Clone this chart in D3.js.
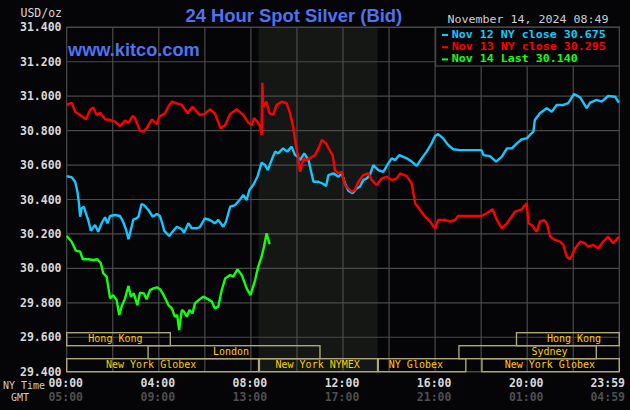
<!DOCTYPE html>
<html>
<head>
<meta charset="utf-8">
<script src="https://cdn.jsdelivr.net/npm/d3@7"></script>
<style>
  body { margin: 0; background: #050507; }
  text { font-family: "DejaVu Sans Mono", monospace; }
  text.title { font-family: "Liberation Sans", Arial, sans-serif; font-weight: bold; }
</style>
</head>
<body>
<svg id="chart" width="630" height="410"></svg>
<script>
// prices as [minutes after NY midnight, USD/oz]
const nov12 = [
  [0, 30.536], [13, 30.529], [22, 30.503], [28, 30.445], [32, 30.378], [35, 30.30], [39, 30.349],
  [45, 30.358], [50, 30.32], [56, 30.281], [63, 30.219], [74, 30.252], [82, 30.213], [91, 30.262],
  [100, 30.297], [106, 30.262], [113, 30.304], [126, 30.31], [139, 30.304], [147, 30.271],
  [155, 30.223], [161, 30.169], [167, 30.223], [174, 30.285], [182, 30.291], [187, 30.30],
  [195, 30.374], [201, 30.368], [213, 30.339], [224, 30.30], [235, 30.316], [243, 30.304],
  [249, 30.262], [254, 30.219], [267, 30.188], [278, 30.219], [287, 30.242], [300, 30.227],
  [306, 30.207], [317, 30.262], [326, 30.233], [339, 30.233], [347, 30.24], [360, 30.291],
  [373, 30.281], [386, 30.262], [395, 30.281], [408, 30.242], [415, 30.271], [426, 30.358],
  [439, 30.368], [452, 30.401], [460, 30.426], [469, 30.397], [476, 30.455], [486, 30.484],
  [497, 30.532], [508, 30.614], [517, 30.60], [524, 30.571], [534, 30.629], [543, 30.678],
  [551, 30.668], [564, 30.697], [575, 30.678], [586, 30.707], [595, 30.658], [602, 30.649],
  [608, 30.629], [619, 30.668], [630, 30.629], [643, 30.503], [656, 30.503], [669, 30.49],
  [676, 30.478], [682, 30.542], [695, 30.552], [708, 30.532], [717, 30.552], [725, 30.494],
  [734, 30.451], [745, 30.436], [756, 30.465], [764, 30.474], [773, 30.513], [782, 30.523],
  [790, 30.542], [799, 30.60], [812, 30.571], [825, 30.561], [838, 30.61], [847, 30.639],
  [856, 30.629], [867, 30.658], [886, 30.639], [899, 30.62], [912, 30.595], [925, 30.639],
  [938, 30.678], [951, 30.726], [960, 30.769], [968, 30.78], [981, 30.755], [994, 30.717],
  [1007, 30.692], [1025, 30.687], [1081, 30.687], [1086, 30.658], [1103, 30.652], [1119, 30.62],
  [1134, 30.649], [1147, 30.697], [1160, 30.697], [1173, 30.726], [1186, 30.75], [1199, 30.755],
  [1207, 30.775], [1216, 30.794], [1220, 30.862], [1233, 30.901], [1251, 30.93], [1264, 30.91],
  [1277, 30.949], [1294, 30.949], [1307, 30.959], [1322, 31.013], [1338, 30.993], [1355, 30.93],
  [1364, 30.962], [1381, 30.978], [1394, 30.968], [1411, 31.001], [1429, 30.997], [1439, 30.962]
];

const nov13 = [
  [0, 30.949], [13, 30.962], [22, 30.91], [35, 30.891], [50, 30.866], [61, 30.92], [69, 30.935],
  [78, 30.891], [87, 30.904], [100, 30.866], [113, 30.862], [126, 30.852], [139, 30.827],
  [152, 30.858], [161, 30.846], [172, 30.885], [178, 30.872], [191, 30.80], [200, 30.794],
  [208, 30.813], [222, 30.866], [235, 30.837], [241, 30.881], [256, 30.901], [265, 30.939],
  [274, 30.968], [291, 30.955], [300, 30.949], [315, 30.901], [328, 30.939], [346, 30.891],
  [360, 30.897], [373, 30.924], [386, 30.901], [401, 30.813], [413, 30.833], [426, 30.897],
  [443, 30.924], [460, 30.891], [473, 30.846], [482, 30.833], [488, 30.872], [497, 30.852],
  [504, 30.823], [508, 30.775], [510, 31.078], [512, 30.939], [521, 30.968], [528, 30.901],
  [538, 30.891], [547, 30.949], [560, 30.968], [573, 30.959], [582, 30.901], [590, 30.823],
  [597, 30.717], [603, 30.649], [608, 30.561], [617, 30.639], [625, 30.629], [634, 30.639],
  [647, 30.658], [656, 30.697], [665, 30.746], [676, 30.726], [686, 30.683], [693, 30.658],
  [699, 30.571], [708, 30.552], [717, 30.561], [725, 30.484], [734, 30.465], [743, 30.445],
  [751, 30.455], [760, 30.503], [773, 30.542], [786, 30.552], [795, 30.513], [808, 30.484],
  [821, 30.523], [834, 30.532], [847, 30.513], [860, 30.523], [869, 30.552], [886, 30.536],
  [899, 30.494], [908, 30.378], [921, 30.339], [934, 30.30], [947, 30.271], [960, 30.233],
  [968, 30.281], [986, 30.281], [999, 30.271], [1012, 30.281], [1020, 30.304], [1081, 30.304],
  [1094, 30.32], [1110, 30.343], [1121, 30.281], [1134, 30.233], [1147, 30.262], [1168, 30.329],
  [1186, 30.343], [1199, 30.378], [1203, 30.262], [1212, 30.252], [1225, 30.213], [1233, 30.271],
  [1244, 30.281], [1251, 30.262], [1260, 30.184], [1273, 30.165], [1286, 30.155], [1294, 30.136],
  [1303, 30.068], [1312, 30.053], [1325, 30.117], [1338, 30.155], [1351, 30.146], [1359, 30.126],
  [1372, 30.136], [1385, 30.117], [1398, 30.155], [1411, 30.184], [1424, 30.146], [1439, 30.184]
];

const nov14 = [
  [0, 30.188], [13, 30.155], [24, 30.103], [35, 30.097], [42, 30.053], [56, 30.053], [69, 30.049],
  [80, 30.053], [89, 30.03], [95, 29.972], [104, 29.952], [113, 29.826], [121, 29.845],
  [130, 29.816], [137, 29.729], [143, 29.778], [152, 29.826], [161, 29.898], [167, 29.836],
  [175, 29.855], [184, 29.787], [191, 29.859], [201, 29.855], [208, 29.82], [217, 29.874],
  [226, 29.884], [235, 29.89], [243, 29.879], [250, 29.855], [259, 29.816], [265, 29.787],
  [274, 29.768], [282, 29.719], [288, 29.729], [293, 29.642], [300, 29.758], [306, 29.748],
  [313, 29.719], [320, 29.758], [328, 29.739], [334, 29.797], [346, 29.82], [356, 29.836],
  [369, 29.82], [378, 29.807], [386, 29.768], [395, 29.778], [404, 29.874], [413, 29.942],
  [426, 29.962], [434, 29.952], [445, 29.995], [456, 29.962], [469, 29.884], [479, 29.845],
  [491, 29.932], [499, 30.01], [508, 30.068], [514, 30.126], [521, 30.204], [525, 30.169],
  [529, 30.14]
];

const legendItems = [
  { label: 'Nov 12 NY close 30.675', color: '#14c8ff' },
  { label: 'Nov 13 NY close 30.295', color: '#ff0000' },
  { label: 'Nov 14 Last 30.140', color: '#11ff11' }
];

const yTicks = [29.4, 29.6, 29.8, 30.0, 30.2, 30.4, 30.6, 30.8, 31.0, 31.2, 31.4];
const nyTimeLabels = ['00:00', '04:00', '08:00', '12:00', '16:00', '20:00', '23:59'];
const gmtLabels = ['05:00', '09:00', '13:00', '17:00', '21:00', '01:00', '04:59'];
const labelMinutes = [0, 240, 480, 720, 960, 1200, 1439];
const gridMinutes = [120, 240, 360, 480, 600, 720, 840, 960, 1080, 1200, 1320];

// NYMEX trading window (shaded)
const nymexWindow = [500, 810];

// trading sessions: row 0 top, row 2 bottom
const sessions = [
  { label: 'Hong Kong', row: 0, start: 0, end: 270, labelAt: 127 },
  { label: 'Hong Kong', row: 0, start: 1170, end: 1440, labelAt: 1322 },
  { label: 'London', row: 1, start: 210, end: 660, labelAt: 428 },
  { label: 'Sydney', row: 1, start: 1020, end: 1380, labelAt: 1258 },
  { label: 'New York Globex', row: 2, start: 0, end: 500, labelAt: 220 },
  { label: 'New York NYMEX', row: 2, start: 500, end: 810, labelAt: 654 },
  { label: 'NY Globex', row: 2, start: 810, end: 1040, labelAt: 910 },
  { label: 'New York Globex', row: 2, start: 1080, end: 1440, labelAt: 1259 }
];

const W = 630, H = 410;
const plot = { left: 66.7, right: 619.3, top: 27.3, bottom: 371.7 };
const bg = '#050507';
const gridColor = '#4a4a4a';

const svg = d3.select('#chart');
svg.append('rect').attr('width', W).attr('height', H).attr('fill', bg);

const x = d3.scaleLinear().domain([0, 1440]).range([plot.left, plot.right]);
const y = d3.scaleLinear().domain([29.4, 31.4]).range([plot.bottom, plot.top]);

// shaded NYMEX window
svg.append('rect')
  .attr('x', x(nymexWindow[0]))
  .attr('y', plot.top)
  .attr('width', x(nymexWindow[1]) - x(nymexWindow[0]))
  .attr('height', plot.bottom - plot.top)
  .attr('fill', '#151715');

// grid
const grid = svg.append('g').attr('stroke', gridColor).attr('stroke-width', 1.2);
grid.selectAll('line.h').data(yTicks).join('line')
  .attr('class', 'h')
  .attr('x1', plot.left).attr('x2', plot.right)
  .attr('y1', d => y(d)).attr('y2', d => y(d));
grid.selectAll('line.v').data(gridMinutes).join('line')
  .attr('class', 'v')
  .attr('x1', d => x(d)).attr('x2', d => x(d))
  .attr('y1', plot.top).attr('y2', plot.bottom);
svg.append('rect')
  .attr('x', plot.left).attr('y', plot.top)
  .attr('width', plot.right - plot.left).attr('height', plot.bottom - plot.top)
  .attr('fill', 'none').attr('stroke', gridColor).attr('stroke-width', 1.2);

// sessions
const rowH = 13;
const rowTop = row => plot.bottom - (3 - row) * rowH;
const sess = svg.append('g');
sess.selectAll('rect').data(sessions).join('rect')
  .attr('x', d => x(d.start) + (d.start > 0 ? 0.8 : 0))
  .attr('y', d => rowTop(d.row))
  .attr('width', d => x(d.end) - x(d.start) - (d.start > 0 ? 0.8 : 0))
  .attr('height', rowH)
  .attr('fill', 'none')
  .attr('stroke', '#aca67a')
  .attr('stroke-width', 1.4);
sess.selectAll('text').data(sessions).join('text')
  .attr('x', d => x(d.labelAt))
  .attr('y', d => rowTop(d.row) + 9.6)
  .attr('text-anchor', 'middle')
  .attr('font-size', 10)
  .attr('fill', '#ffcc00')
  .text(d => d.label);

// price lines
const line = d3.line().x(d => x(d[0])).y(d => y(d[1]));
[[nov12, legendItems[0].color], [nov13, legendItems[1].color], [nov14, legendItems[2].color]]
  .forEach(([data, color]) => {
    svg.append('path')
      .datum(data)
      .attr('d', line)
      .attr('fill', 'none')
      .attr('stroke', color)
      .attr('stroke-width', 2.4)
      .attr('stroke-linejoin', 'bevel');
  });

// y labels
svg.append('g').selectAll('text').data(yTicks).join('text')
  .attr('x', 61.5)
  .attr('y', d => y(d) + 4)
  .attr('text-anchor', 'end')
  .attr('font-size', 11.5)
  .attr('font-weight', 'bold')
  .attr('fill', '#d8d8d8')
  .text(d => d3.format('.3f')(d));
svg.append('text')
  .attr('x', 62).attr('y', 17)
  .attr('text-anchor', 'end')
  .attr('font-size', 11.5)
  .attr('fill', '#d8d8d8')
  .text('USD/oz');

// x labels
const xLab = svg.append('g');
const lastIdx = labelMinutes.length - 1;
xLab.selectAll('text.ny').data(nyTimeLabels).join('text')
  .attr('class', 'ny')
  .attr('x', (d, i) => i === lastIdx ? 625 : x(labelMinutes[i]) - 1)
  .attr('y', 387)
  .attr('text-anchor', (d, i) => i === lastIdx ? 'end' : 'middle')
  .attr('font-size', 11.5)
  .attr('font-weight', 'bold')
  .attr('fill', '#d8d8d8')
  .text(d => d);
xLab.selectAll('text.gmt').data(gmtLabels).join('text')
  .attr('class', 'gmt')
  .attr('x', (d, i) => i === lastIdx ? 625 : x(labelMinutes[i]) - 1)
  .attr('y', 401)
  .attr('text-anchor', (d, i) => i === lastIdx ? 'end' : 'middle')
  .attr('font-size', 11.5)
  .attr('font-weight', 'bold')
  .attr('fill', '#4e4e4e')
  .text(d => d);
svg.append('text').attr('x', 3).attr('y', 388.5)
  .attr('font-size', 10).attr('fill', '#cccccc').text('NY Time');
svg.append('text').attr('x', 11).attr('y', 401)
  .attr('font-size', 10).attr('fill', '#cccccc').text('GMT');

// titles (class sets the sans-serif face)
svg.append('text')
  .attr('class', 'title')
  .attr('x', 185.5).attr('y', 22)
  .attr('font-size', 18.4)
  .attr('fill', '#4f72f0')
  .text('24 Hour Spot Silver (Bid)');
svg.append('text')
  .attr('class', 'title')
  .attr('x', 68).attr('y', 55.7)
  .attr('font-size', 18.2)
  .attr('fill', '#4f72f0')
  .text('www.kitco.com');
svg.append('text')
  .attr('x', 447.5).attr('y', 22.5)
  .attr('font-size', 10.8)
  .attr('fill', '#cfcfcf')
  .attr('textLength', 161)
  .attr('lengthAdjust', 'spacingAndGlyphs')
  .text('November 14, 2024 08:49');

// legend
const leg = svg.append('g');
leg.append('rect')
  .attr('x', 435.7).attr('y', plot.top)
  .attr('width', plot.right - 435.7).attr('height', 38.7)
  .attr('fill', bg).attr('stroke', gridColor).attr('stroke-width', 1.2);
const items = leg.selectAll('g').data(legendItems).join('g')
  .attr('transform', (d, i) => `translate(441, ${38 + i * 12.2})`);
items.append('rect')
  .attr('x', 1).attr('y', -4).attr('width', 6).attr('height', 2)
  .attr('fill', d => d.color);
items.append('text')
  .attr('x', 10.7).attr('y', 0)
  .attr('font-size', 10.3)
  .attr('font-weight', 'bold')
  .attr('fill', d => d.color)
  .attr('textLength', d => d.label.length * 7)
  .attr('lengthAdjust', 'spacingAndGlyphs')
  .text(d => d.label);
</script>
</body>
</html>
